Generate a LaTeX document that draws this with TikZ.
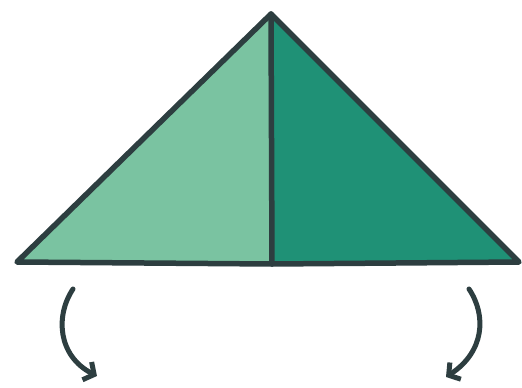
\documentclass[tikz,border=0pt]{standalone}
\usetikzlibrary{arrows.meta}
\definecolor{leafL}{HTML}{7AC3A1}
\definecolor{leafD}{HTML}{1F9176}
\definecolor{ink}{HTML}{2D3E40}
\begin{document}
\begin{tikzpicture}[x=1pt, y=-1pt, line join=round, line cap=round, >={Straight Barb[length=8pt,width=20pt]}]
				\useasboundingbox (0,0) rectangle (522,388);
				\coordinate (A) at (17,262);
				\coordinate (S) at (271,14);
				\coordinate (C) at (519,262);
				\coordinate (M) at (272,264);
				\fill[leafL] (A)--(S)--(M)--cycle;
				\fill[leafD] (S)--(C)--(M)--cycle;
				\draw[ink, line width=5.5pt] (A)--(S)--(C)--(M)--cycle;
				\draw[ink, line width=5.5pt] (S)--(M);
				% arrows below
				\coordinate (p1) at (73,289);
				\coordinate (q1) at (97,376);
				\coordinate (p2) at (469,289);
				\coordinate (q2) at (446,377);
				\draw[ink, line width=5pt, ->] (p1) .. controls (55,316) and (58,356) .. (q1);
				\draw[ink, line width=5pt, ->] (p2) .. controls (487,316) and (484,352) .. (q2);
			\end{tikzpicture}
\end{document}
